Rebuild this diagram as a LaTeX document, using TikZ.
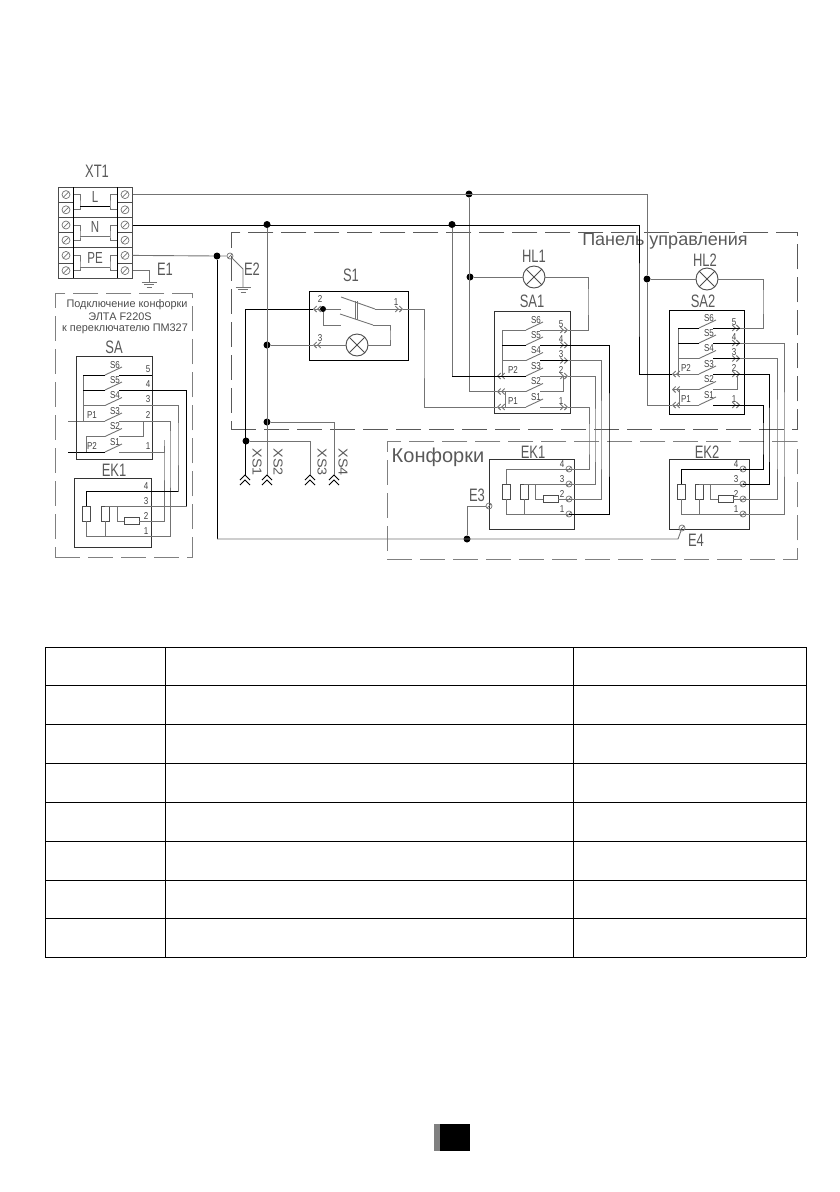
\documentclass[tikz,border=0pt]{standalone}
\usepackage{fontspec}
\setmainfont{Liberation Sans}
\usetikzlibrary{arrows.meta}
\definecolor{wiregray}{gray}{0.45}
\tikzstyle{wire}=[draw=wiregray, line width=0.9pt]
\tikzstyle{wireb}=[draw=black, line width=1pt]
\tikzstyle{tipp}=[-{Straight Barb[length=3pt,width=6pt]Straight Barb[length=3pt,width=6pt]}]
\tikzstyle{junct}=[fill=black, circle, inner sep=0pt, minimum size=7pt]
\tikzstyle{box}=[draw=black!80, line width=0.9pt, inner sep=0pt, outer sep=0pt, anchor=north west]
\tikzstyle{cell}=[draw=black!70, line width=0.8pt, inner sep=0pt, outer sep=0pt, minimum width=15pt, minimum height=15.2pt]
\tikzstyle{screw}=[circle, draw=wiregray, inner sep=0pt, minimum size=6pt, line width=0.7pt,
  path picture={\draw[wiregray] (path picture bounding box.south west) -- (path picture bounding box.north east);}]
\tikzstyle{lamp}=[circle, draw=black!70, inner sep=0pt, minimum size=22pt, line width=0.9pt,
  path picture={\draw[black!70] (path picture bounding box.south west) -- (path picture bounding box.north east);
    \draw[black!70] (path picture bounding box.north west) -- (path picture bounding box.south east);}]
\tikzstyle{res}=[draw=black!70, fill=white, line width=0.9pt, inner sep=0pt]
\tikzstyle{dashbox}=[draw=black!65, line width=0.9pt, dash pattern=on 25pt off 8pt, inner sep=0pt, anchor=north west]
\tikzstyle{txtL}=[text=black!65, inner sep=0pt, xscale=0.72, font=\fontsize{18}{18}\selectfont]
\tikzstyle{txtM}=[text=black!70, inner sep=0pt, font=\fontsize{11}{11}\selectfont]
\tikzstyle{txtS}=[text=black!75, inner sep=0pt, xscale=0.8, font=\fontsize{10}{10}\selectfont]
\newcommand{\gndsym}[1]{\draw[wire] ([shift={(-7.5,0)}]#1) -- ([shift={(7.5,0)}]#1);
  \draw[wire] ([shift={(-5,2.5)}]#1) -- ([shift={(5,2.5)}]#1);
  \draw[wire] ([shift={(-2.5,5)}]#1) -- ([shift={(2.5,5)}]#1);}
\newcommand{\xsplug}[1]{\draw[wireb,line width=0.9pt] ([shift={(-5,5)}]#1) -- (#1) -- ([shift={(5,5)}]#1);
  \draw[wireb,line width=0.9pt] ([shift={(-5,10)}]#1) -- ([shift={(0,5)}]#1) -- ([shift={(5,10)}]#1);}
\begin{document}
\begin{tikzpicture}[x=1pt,y=-1pt]
  \useasboundingbox (0,0) rectangle (840,1192);
  % Dashed frames
  \node[dashbox, minimum width=566pt, minimum height=197pt] (panel) at (231,232) {};
  \node[dashbox, draw=black!50, line width=0.7pt, minimum width=410pt, minimum height=118pt] (burners) at (387,441) {};
  \node[dashbox, draw=black!50, line width=0.7pt, minimum width=137pt, minimum height=264pt] (note) at (55,293) {};
  \node[txtL, xscale=1.39] (panelname) at (665,241) {Панель управления};
  \node[txtL, xscale=1.39, font=\fontsize{20}{20}\selectfont] (burnname) at (438,457) {Конфорки};
  \node[txtM, xscale=0.99] (note1) at (127,305) {Подключение конфорки};
  \node[txtM, xscale=0.99] (note2) at (120,317) {ЭЛТА F220S};
  \node[txtM, xscale=0.99] (note3) at (125,329) {к переключателю ПМ327};
  % XT1
  \node[txtL] (xtname) at (97,171) {XT1};
  \foreach \rw/\yy in {a/194.6,b/209.8,c/225,d/240.2,e/255.4,f/270.6} {
    \node[cell] (cl\rw) at (65.5,\yy) {};
    \node[cell] (cr\rw) at (125,\yy) {};
    \node[screw, minimum size=8pt] (sl\rw) at (66,\yy) {};
    \node[screw, minimum size=8pt] (sr\rw) at (125,\yy) {};
  }
  \foreach \nm/\yy/\ybar/\ytxt/\up/\dn in {L/202.2/206/197/a/b,N/232.6/236/227/c/d,PE/263/267/258/e/f} {
    \node[cell, minimum width=44.5pt, minimum height=30.4pt] (x\nm) at (95.2,\yy) {};
    \node[txtL, font=\fontsize{16}{16}\selectfont] (t\nm) at (95,\ytxt) {\nm};
    \coordinate (lk\nm) at (80,\ybar);
    \coordinate (rk\nm) at (110,\ybar);
    \draw[wire] (cl\up.east) -| (lk\nm) |- (cl\dn.east);
    \draw[wire] (cr\up.west) -| (rk\nm) |- (cr\dn.west);
    \draw[wire] (lk\nm) -- (rk\nm);
  }
  \draw[wireb] (lkL) -- (rkL);
  \draw[wireb] (73,187) -- (73,278) (117,187) -- (117,278);
  % Switch blocks
  \foreach \sw/\xc/\xb/\xp/\xl/\xr/\xk/\xn/\yo/\pa/\pb in {swA/105/83/86/68/152/143/148/375/P1/P2,
      swB/526/502/505/497/568/563/561/330/P2/P1, swC/699/678/679/672/740/737/734/328/P2/P1} {
    \foreach \rw/\dy/\nr in {6/0/5,5/15/4,4/30.5/3,3/46/2,2/61.5/,1/77/1} {
      \coordinate (\sw c\rw) at (\xc,\yo+\dy);
      \coordinate (\sw d\rw) at (\xc+14,\yo+\dy);
      \coordinate (\sw e\rw) at (\xc+17,\yo+\dy-8);
      \coordinate (\sw R\rw) at (\xr,\yo+\dy);
      \coordinate (\sw L\rw) at (\xl,\yo+\dy);
      \coordinate (\sw p\rw) at (\xp,\yo+\dy);
      \coordinate (\sw l\rw) at (\xb,\yo+\dy);
      \draw[wire] (\sw c\rw) -- (\sw e\rw);
      \node[txtS] (\sw s\rw) at (\xc+10,\yo+\dy-10) {S\rw};
      \node[txtS] (\sw n\rw) at (\xn,\yo+\dy-6) {\nr};
    }
    \draw[wire] (\sw l6) -- (\sw l3);
    \foreach \rw in {6,5,4,3} \draw[wire] (\sw l\rw) -- (\sw c\rw);
    \draw[wire] (\sw c2) -- (\sw p2) -- (\sw p1) -- (\sw c1);
    \coordinate (\sw k) at (\xk,\yo+46);
    \draw[wire] (\sw d2) -| (\sw k);
    \node[txtS] (\sw pa) at (\xc-13,\yo+40) {\pa};
    \node[txtS] (\sw pb) at (\xc-13,\yo+71) {\pb};
  }
  \foreach \rw in {6,5,4,3,1} \draw[wire] (swAd\rw) -- (swAR\rw);
  \draw[wire] (swAl3) -- (swAL3);
  \draw[wireb] (swAp1) -- (swAL1);
  \foreach \sw in {swB,swC} {
    \foreach \rw in {6,5,4,3,1} \draw[wire,tipp] (\sw d\rw) -- (\sw R\rw);
    \draw[wire,tipp] (\sw l3) -- (\sw L3);
    \draw[wire,tipp] (\sw p2) -- (\sw L2);
    \draw[wire,tipp] (\sw p1) -- (\sw L1);
  }
  % Darker rows
  \foreach \from/\goal in {swAl6/swAc6,swAd6/swAR6,swAl5/swAc5,swAd5/swAR5,swAp1/swAc1,
      swBl5/swBc5,swBd5/swBR5,swBd4/swBR4,swBL3/swBc3,
      swCl6/swCc6,swCd6/swCR6,swCl5/swCc5,swCd5/swCR5,swCd4/swCR4,swCd3/swCR3,swCd1/swCR1}
    \draw[wireb] (\from) -- (\goal);
  \node[box, minimum width=76pt, minimum height=103pt] (SAbox) at (76,356) {};
  \node[box, minimum width=76pt, minimum height=102pt] (SA1box) at (494,311) {};
  \node[box, draw=black, minimum width=75pt, minimum height=104pt] (SA2box) at (669,310) {};
  \node[txtL] (SAname) at (114,347) {SA};
  \node[txtL] (SA1name) at (532,301) {SA1};
  \node[txtL] (SA2name) at (703,301) {SA2};
  % Burners
  \foreach \ek/\xa/\xb/\xc/\xd/\xt/\yo/\numx/\nma in {ekA/86/105/117/131.5/151/491/146/EK1,
      ekB/506/524/535/550.5/569/469/562/EK1, ekC/681/699/710/725.5/743/469/736/EK2} {
    \foreach \rw/\dy in {4/0,3/15,2/30,1/45} {
      \coordinate (\ek T\rw) at (\xt,\yo+\dy);
      \node[txtS] (\ek n\rw) at (\numx,\yo+\dy-5) {\rw};
    }
    \node[res, minimum width=8pt, minimum height=15pt] (\ek ra) at (\xa,\yo+22.5) {};
    \node[res, minimum width=8pt, minimum height=15pt] (\ek rb) at (\xb,\yo+22.5) {};
    \node[res, minimum width=15pt, minimum height=7pt] (\ek rc) at (\xd,\yo+30) {};
    \coordinate (\ek j) at (\xc,\yo+15);
    \draw[wire] (\ek T4) -| (\ek ra.north);
    \draw[wire] (\ek ra.south) |- (\ek T1);
    \draw[wire] (\ek T3) -| (\ek rb.north);
    \draw[wire] (\ek rb.south) |- (\ek T1);
    \draw[wire] (\ek j) |- (\ek rc.west);
    \draw[wire] (\ek rc.east) -- (\ek T2);
  }
  \draw[wireb] (ekCT4) -| (ekCra.north);
  \foreach \ek in {ekB,ekC} \foreach \rw in {4,3,2,1} \node[screw] (\ek s\rw) at (\ek T\rw) {};
  \node[box, minimum width=77pt, minimum height=69pt] (EKbox) at (74,478) {};
  \node[box, minimum width=85pt, minimum height=70pt] (EK1box) at (489,459) {};
  \node[box, minimum width=80pt, minimum height=70pt] (EK2box) at (669,459) {};
  \node[txtL] (EKname) at (114,470) {EK1};
  \node[txtL] (EK1name) at (533,452) {EK1};
  \node[txtL] (EK2name) at (707,452) {EK2};
  % S1
  \node[box, draw=black, minimum width=99pt, minimum height=69pt] (S1box) at (309,291) {};
  \node[txtL] (S1name) at (351,275) {S1};
  \coordinate (S1t2) at (313,309);
  \coordinate (S1t3) at (313,345);
  \coordinate (S1t1) at (403,309);
  \node[txtS] (S1n2) at (320,299) {2};
  \node[txtS] (S1n3) at (320,338) {3};
  \node[txtS] (S1n1) at (396,302) {1};
  \node[junct, minimum size=6pt] (jS1) at (323,309) {};
  \coordinate (S1a) at (341,309);
  \coordinate (S1b) at (341,325);
  \coordinate (S1c) at (341,297);
  \coordinate (S1d) at (375,309);
  \coordinate (S1e) at (340,314);
  \coordinate (S1f) at (373,325);
  \coordinate (S1g) at (390,335);
  \coordinate (S1h) at (355,301);
  \coordinate (S1i) at (355,319);
  \coordinate (S1k) at (357,301);
  \coordinate (S1m) at (357,320);
  \node[lamp] (S1lamp) at (357,345) {};
  \draw[wire] (jS1) -- (S1a);
  \draw[wire] (jS1) |- (S1b);
  \draw[wire] (S1c) -- (S1d) (S1e) -- (S1f);
  \draw[wire] (S1h) -- (S1i) (S1k) -- (S1m);
  \draw[wire,tipp] (S1d) -- (S1t1);
  \draw[wire] (S1f) -| (S1g) |- (S1lamp);
  \draw[wire,tipp] (S1lamp) -- (S1t3);
  \draw[wire,tipp] (jS1) -- (S1t2);
  % Lamps
  \node[lamp] (HL1) at (534,277) {};
  \node[lamp] (HL2) at (707,279) {};
  \node[txtL] (HL1name) at (534,256) {HL1};
  \node[txtL] (HL2name) at (705,260) {HL2};
  % Junctions
  \node[junct] (jL) at (469,194) {};
  \node[junct] (jHL1) at (470,277) {};
  \node[junct] (jHL2) at (647,279) {};
  \node[junct] (jN1) at (267,224.5) {};
  \node[junct] (jN2) at (452,224.5) {};
  \node[junct] (jPE) at (217,256) {};
  \node[junct] (j345) at (267,345) {};
  \node[junct] (jXS4) at (267,422) {};
  \node[junct] (jXS3) at (246,441) {};
  \node[junct] (jE) at (467,539) {};
  % Terminals
  \node[screw] (E2) at (230,256) {};
  \node[screw] (E3) at (489,506) {};
  \node[screw] (E4) at (682,528) {};
  \node[txtL] (E1name) at (165,269) {E1};
  \node[txtL] (E2name) at (252,269) {E2};
  \node[txtL] (E3name) at (477,495) {E3};
  \node[txtL] (E4name) at (696,540) {E4};
  \foreach \nm/\xx/\xt in {1/245/257,2/267/278,3/310/322,4/334/343} {
    \coordinate (XS\nm) at (\xx,475);
    \node[txtL, rotate=-90, xscale=0.8] (XS\nm name) at (\xt,462) {XS\nm};
    \xsplug{XS\nm}
  }
  % Wiring
  \coordinate (chN) at (639,300);
  \coordinate (chS) at (424,350);
  \coordinate (chB) at (588,300);
  \coordinate (chC) at (763,300);
  \coordinate (cNB) at (452,376);
  \coordinate (cE) at (217,539);
  \coordinate (cE4) at (678,539);
  \coordinate (gndA) at (149,282);
  \coordinate (gndB) at (243,287);
  \coordinate (cE2) at (243,269);
  \coordinate (cAR5) at (186,506);
  \coordinate (cAR4) at (178,491);
  \draw[wire] (cra.east) -| (jHL2) |- (swCL1);
  \draw[wire] (jL) |- (swBL2);
  \draw[wireb] (crc.east) -| (chN) |- (swCL3);
  \draw[wire] (jN2) -- (cNB);
  \draw[wireb] (cNB) -- (swBL3);
  \draw[wire] (cre.east) -- (jPE) -- (E2);
  \draw[wire] (crf.east) -| (gndA);
  \gndsym{gndA}
  \draw[wire] (E2) -- (cE2) -- (gndB);
  \gndsym{gndB}
  \draw[wireb] (jPE) -- (cE);
  \draw[wire] (cE) -- (cE4) -- (E4);
  \draw[wire] (jE) |- (E3);
  \draw[wireb] (S1t2) -| (XS1);
  \draw[wire] (jN1) -- (XS2);
  \draw[wire] (j345) -- (S1t3);
  \draw[wire] (jXS4) -| (XS4);
  \draw[wire] (jXS3) -| (XS3);
  \draw[wire] (S1t1) -| (chS) |- (swBL1);
  \draw[wire] (jHL1) -- (HL1);
  \draw[wire] (jHL2) -- (HL2);
  \draw[wire] (HL1) -| (chB) |- (swBR6);
  \draw[wire] (HL2) -| (chC) |- (swCR6);
  % To the burners
  \foreach \wst/\from/\chx/\goal in {wire/swBR1/589/ekBT4, wire/swBR3/595/ekBT3, wire/swBR4/601/ekBT2, wireb/swBR5/609/ekBT1,
      wireb/swCR1/763/ekCT4, wireb/swCR3/769/ekCT3, wire/swCR4/777/ekCT2, wire/swCR5/784/ekCT1,
      wire/swAR4/178/ekAT4, wire/swAR5/186/ekAT3, wire/swAR1/164/ekAT2, wire/swAR3/170/ekAT1} {
    \coordinate (ch\from) at (\chx,440);
    \draw[\wst] (\from) -| (ch\from) |- (\goal);
  }
  \draw[wireb] (swAR5) -| (cAR5);
  \draw[wireb] (cAR4) -| (ekAra.north);
  % Table
  \foreach \yy in {647,685,724,763,802,841,880,918,957} \draw[black, line width=1pt] (45,\yy) -- (806,\yy);
  \foreach \xx in {45,165,573,806} \draw[black, line width=1pt] (\xx,647) -- (\xx,957);
  % Page mark
  \fill[black!50] (434,1124) rectangle (440,1151);
  \fill[black] (440,1124) rectangle (470,1151);
\end{tikzpicture}
\end{document}
